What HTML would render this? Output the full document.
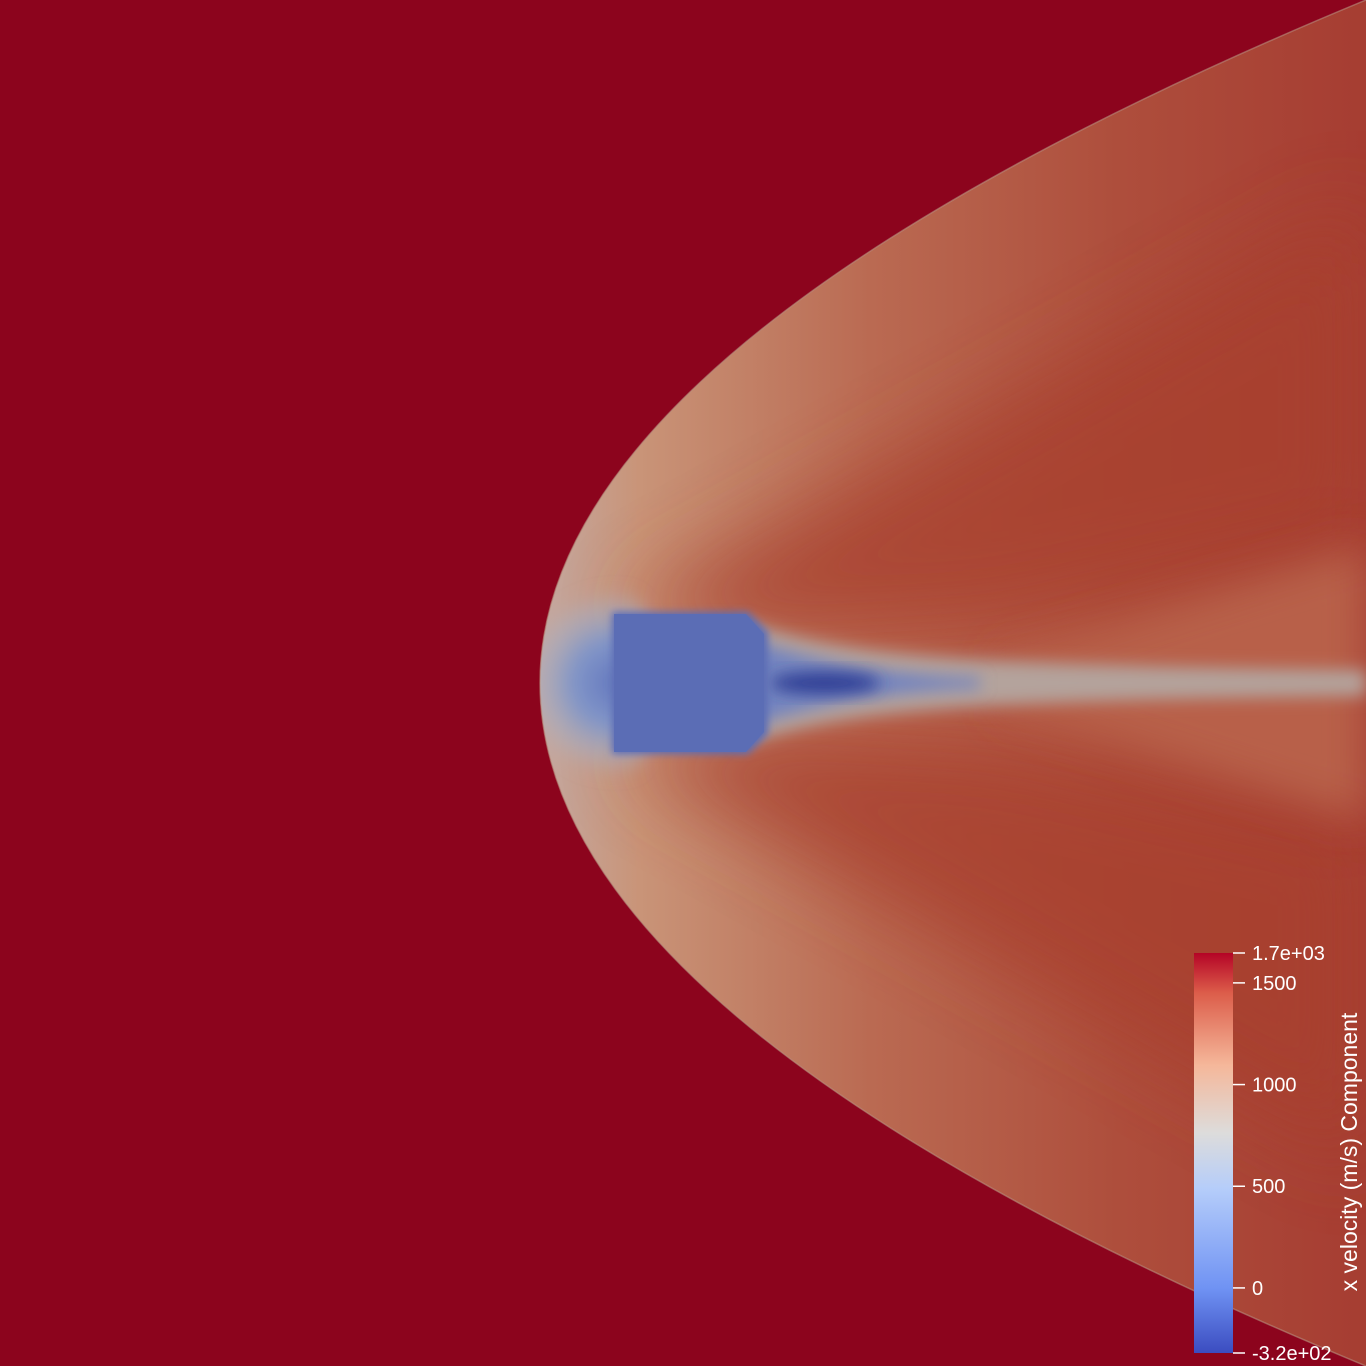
<!DOCTYPE html>
<html><head><meta charset="utf-8"><style>
html,body{margin:0;padding:0;background:#8C041D;}
svg{display:block;}
text{font-family:"Liberation Sans",sans-serif;fill:#fff;}
</style></head><body>
<svg width="1366" height="1366" viewBox="0 0 1366 1366">
<defs>
  <clipPath id="shockClip"><path d="M1366,0 Q540,341.5 540,683 Q540,1024.5 1366,1366 Z"/></clipPath>
  <linearGradient id="baseG" x1="540" y1="0" x2="1366" y2="0" gradientUnits="userSpaceOnUse">
    <stop offset="0" stop-color="#C4A8A0"/>
    <stop offset="0.12" stop-color="#C99478"/>
    <stop offset="0.4" stop-color="#BA6A52"/>
    <stop offset="0.7" stop-color="#AE4E3C"/>
    <stop offset="1" stop-color="#A63D32"/>
  </linearGradient>
  <radialGradient id="noseG" cx="615" cy="683" r="95" gradientUnits="userSpaceOnUse">
    <stop offset="0" stop-color="#6478BE"/>
    <stop offset="0.45" stop-color="#8296C8"/>
    <stop offset="0.8" stop-color="#A8B0C4" stop-opacity="0.5"/>
    <stop offset="1" stop-color="#B3AFB8" stop-opacity="0"/>
  </radialGradient>
  <linearGradient id="cbG" x1="0" y1="1" x2="0" y2="0">
    <stop offset="0" stop-color="#3B4CC0"/>
    <stop offset="0.16" stop-color="#6F92F3"/>
    <stop offset="0.41" stop-color="#B5CDFA"/>
    <stop offset="0.55" stop-color="#DDDCDB"/>
    <stop offset="0.72" stop-color="#F5B79A"/>
    <stop offset="0.9" stop-color="#DC5D4A"/>
    <stop offset="1" stop-color="#B40426"/>
  </linearGradient>
  <filter id="b8" x="-50%" y="-50%" width="200%" height="200%"><feGaussianBlur stdDeviation="8"/></filter>
  <filter id="b20" x="-50%" y="-50%" width="200%" height="200%"><feGaussianBlur stdDeviation="20"/></filter>
  <filter id="b40" x="-50%" y="-50%" width="200%" height="200%"><feGaussianBlur stdDeviation="40"/></filter>
  <filter id="b4" x="-50%" y="-50%" width="200%" height="200%"><feGaussianBlur stdDeviation="4"/></filter>
</defs>
<rect width="1366" height="1366" fill="#8C041D"/>
<g clip-path="url(#shockClip)">
  <rect x="530" y="0" width="836" height="1366" fill="url(#baseG)"/>
  <path d="M620,612 L1366,200 L1366,540 L1000,625 L760,640 Z" fill="#A8402F" filter="url(#b40)" opacity="0.8"/>
  <path d="M620,754 L1366,1166 L1366,826 L1000,741 L760,726 Z" fill="#A8402F" filter="url(#b40)" opacity="0.8"/>
  <path d="M1000,660 L1366,545 L1366,821 L1000,706 Z" fill="#B86048" filter="url(#b20)"/>
  <ellipse cx="590" cy="683" rx="70" ry="120" fill="url(#noseG)" filter="url(#b8)"/>
  <path d="M740,620 C830,650 900,665 1366,670 L1366,696 C900,701 830,716 740,746 Z" fill="#B4A39C" filter="url(#b8)"/>
  <path d="M750,640 C820,662 880,674 980,678 L980,688 C880,692 820,704 750,726 Z" fill="#7384C0" filter="url(#b8)"/>
  <ellipse cx="825" cy="683" rx="55" ry="11" fill="#2E3D94" filter="url(#b8)"/>
  <path d="M612,612 L748,612 L768,632 L768,734 L748,754 L612,754 Z" fill="#5B6DB5" filter="url(#b4)"/>
  <path d="M614,614 L746,614 L764,634 L764,732 L746,752 L614,752 Z" fill="#5B6DB5"/>
</g>
<path d="M1366,0 Q540,341.5 540,683 Q540,1024.5 1366,1366" fill="none" stroke="#B8907E" stroke-width="1.5" opacity="0.6"/>
<g id="legend">
  <rect x="1194" y="953" width="39" height="400" fill="url(#cbG)"/>
  <text x="1357" y="1152" font-size="23" text-anchor="middle" transform="rotate(-90 1357 1152)">x velocity (m/s) Component</text>
</g>
<script>
const tickValues=[1500,1000,500,0];
const tickLabels=["1500","1000","500","0"];
const rangeMin=-320, rangeMax=1647;
const rangeLabels=["-3.2e+02","1.7e+03"];
const y0=1353, y1=953;
function yScale(v){return y0-(v-rangeMin)/(rangeMax-rangeMin)*(y0-y1);}
const g=document.getElementById('legend');
const ns='http://www.w3.org/2000/svg';
function tick(v,label,name){
  const y=yScale(v);
  const l=document.createElementNS(ns,'line');
  l.setAttribute('x1',1233);l.setAttribute('x2',1245);l.setAttribute('y1',y);l.setAttribute('y2',y);
  l.setAttribute('stroke','#fff');l.setAttribute('stroke-width','1.5');
  
  
  g.appendChild(l);
  const t=document.createElementNS(ns,'text');
  t.setAttribute('x',1252);t.setAttribute('y',y+7);t.setAttribute('font-size','20');
  t.textContent=label;
  
  
  g.appendChild(t);
}
tick(rangeMax,rangeLabels[1],'colorbar-max-label');
tickValues.forEach((v,i)=>tick(v,tickLabels[i],'colorbar-tick-label'));
tick(rangeMin,rangeLabels[0],'colorbar-min-label');
</script>
</svg>
</body></html>
